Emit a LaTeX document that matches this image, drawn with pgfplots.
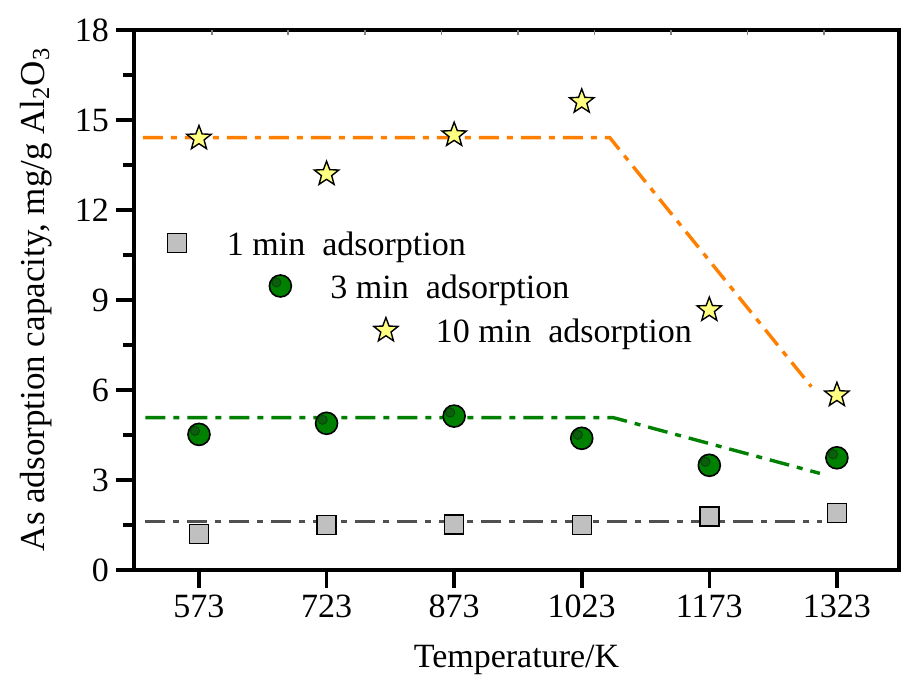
\documentclass[border=0pt]{standalone}
\usepackage{fontspec}
\setmainfont{Liberation Serif}
\usepackage{pgfplots}
\pgfplotsset{compat=1.18}
\definecolor{sqgray}{HTML}{C0C0C0}
\definecolor{dgray}{HTML}{505050}
\definecolor{dgreen}{HTML}{008000}
\definecolor{spotgreen}{HTML}{0B5E0B}
\definecolor{spotring}{HTML}{0A400A}
\definecolor{dorange}{HTML}{FF8000}
\definecolor{syellow}{HTML}{FFFF80}

% filled five-pointed star
\pgfdeclareplotmark{fstar}{%
  \pgfpathmoveto{\pgfqpoint{0pt}{\pgfplotmarksize}}%
  \pgfpathlineto{\pgfqpoint{-0.247\pgfplotmarksize}{0.340\pgfplotmarksize}}%
  \pgfpathlineto{\pgfqpoint{-0.951\pgfplotmarksize}{0.309\pgfplotmarksize}}%
  \pgfpathlineto{\pgfqpoint{-0.399\pgfplotmarksize}{-0.130\pgfplotmarksize}}%
  \pgfpathlineto{\pgfqpoint{-0.588\pgfplotmarksize}{-0.809\pgfplotmarksize}}%
  \pgfpathlineto{\pgfqpoint{0pt}{-0.42\pgfplotmarksize}}%
  \pgfpathlineto{\pgfqpoint{0.588\pgfplotmarksize}{-0.809\pgfplotmarksize}}%
  \pgfpathlineto{\pgfqpoint{0.399\pgfplotmarksize}{-0.130\pgfplotmarksize}}%
  \pgfpathlineto{\pgfqpoint{0.951\pgfplotmarksize}{0.309\pgfplotmarksize}}%
  \pgfpathlineto{\pgfqpoint{0.247\pgfplotmarksize}{0.340\pgfplotmarksize}}%
  \pgfpathclose
  \pgfusepathqfillstroke
}
% ball with a small highlight spot
\pgfdeclareplotmark{sphere}{%
  \pgfpathcircle{\pgfpointorigin}{\pgfplotmarksize}%
  \pgfusepathqfillstroke
  \begin{pgfscope}
    \pgfsetfillcolor{spotgreen}%
    \pgfsetstrokecolor{spotring}%
    \pgfsetlinewidth{0.4pt}%
    \pgfpathcircle{\pgfqpoint{-0.36\pgfplotmarksize}{0.32\pgfplotmarksize}}{0.42\pgfplotmarksize}%
    \pgfusepathqfillstroke
  \end{pgfscope}
}

\newcommand{\fs}{\fontsize{17}{20}\selectfont}
\tikzset{dashdot/.style={line width=1.7pt, dash pattern=on 10pt off 4pt on 3pt off 4pt}}
\pgfplotsset{
  base/.style={scale only axis, width=382.5pt, height=270pt,
    xmin=496.6, xmax=1396, ymin=0, ymax=18},
  leg/.style={base, hide axis,
    legend image code/.code={\draw[##1] plot coordinates {(0pt,1pt)}; \path[draw=none] (0pt,0pt) -- (23pt,0pt);},
    legend style={draw=none, fill=none, inner sep=0pt, font=\fs, anchor=west}}
}

\begin{document}
\begin{tikzpicture}
\useasboundingbox (-67pt,-55pt) rectangle (383.5pt,285pt);
\begin{axis}[base,
  axis line style={line width=1.8pt},
  xtick={573,723,873,1023,1173,1323},
  ytick={0,3,...,18},
  minor y tick num=1,
  xtick pos=bottom, ytick pos=left,
  tick align=outside,
  major tick length=9pt, minor tick length=5.5pt,
  every tick/.style={black, line width=1.8pt},
  ticklabel style={font=\fs},
  /pgf/number format/assume math mode=true,
  /pgf/number format/1000 sep={},
  xlabel={Temperature/K},
  ylabel={As adsorption capacity, mg/g Al\textsubscript{2}O\textsubscript{3}},
  xlabel style={at={(axis description cs:0.5,0)}, anchor=base, yshift=-49pt, font=\fs},
  ylabel style={at={(axis description cs:-0.1176,0.501)}, anchor=base,
    font=\fontsize{17.5}{20}\selectfont},
]
  % 1 min
  \addplot[only marks, mark=square*, mark size=4.75pt,
    mark options={fill=sqgray, draw=black, line width=0.7pt}]
    coordinates {(573,1.2)(723,1.5)(873,1.52)(1023,1.5)(1173,1.78)(1323,1.9)};
  % 3 min
  \addplot[only marks, mark=sphere, mark size=5.5pt,
    mark options={fill=dgreen, draw=black, line width=0.8pt}]
    coordinates {(573,4.52)(723,4.89)(873,5.13)(1023,4.39)(1173,3.49)(1323,3.74)};
  % 10 min
  \addplot[only marks, mark=fstar, mark size=6.4pt,
    mark options={fill=syellow, draw=black, line width=0.7pt}]
    coordinates {(573,14.39)(723,13.2)(873,14.5)(1023,15.61)(1173,8.67)(1323,5.83)};
  % guide lines
  \addplot[dashdot, draw=dgray] coordinates {(510,1.61)(1306,1.61)};
  \addplot[dashdot, draw=dgreen] coordinates {(510,5.08)(1060,5.08)(1303,3.22)};
  \addplot[dashdot, draw=dorange] coordinates {(507,14.41)(1056,14.41)(1293,6.11)};
\end{axis}
% small inner ticks on the top edge
\begin{axis}[base, axis x line*=top, hide y axis,
  xtick={588,678,...,1308}, xticklabels={},
  tick align=inside, major tick length=2.5pt,
  every tick/.style={gray, line width=0.8pt},
  axis line style={draw=none}]
\end{axis}
% staggered legend
\begin{axis}[leg, legend style={at={(axis cs:535.4,10.83)}}]
  \addlegendimage{only marks, mark=square*, mark size=4.75pt,
    mark options={fill=sqgray, draw=black, line width=0.7pt}}
  \addlegendentry{1 min\ \ adsorption}
\end{axis}
\begin{axis}[leg, legend style={at={(axis cs:655.3,9.40)}}]
  \addlegendimage{only marks, mark=sphere, mark size=5.5pt,
    mark options={fill=dgreen, draw=black, line width=0.8pt}}
  \addlegendentry{3 min\ \ adsorption}
\end{axis}
\begin{axis}[leg, legend style={at={(axis cs:778,7.92)}}]
  \addlegendimage{only marks, mark=fstar, mark size=6.4pt,
    mark options={fill=syellow, draw=black, line width=0.7pt}}
  \addlegendentry{10 min\ \ adsorption}
\end{axis}
\end{tikzpicture}
\end{document}
